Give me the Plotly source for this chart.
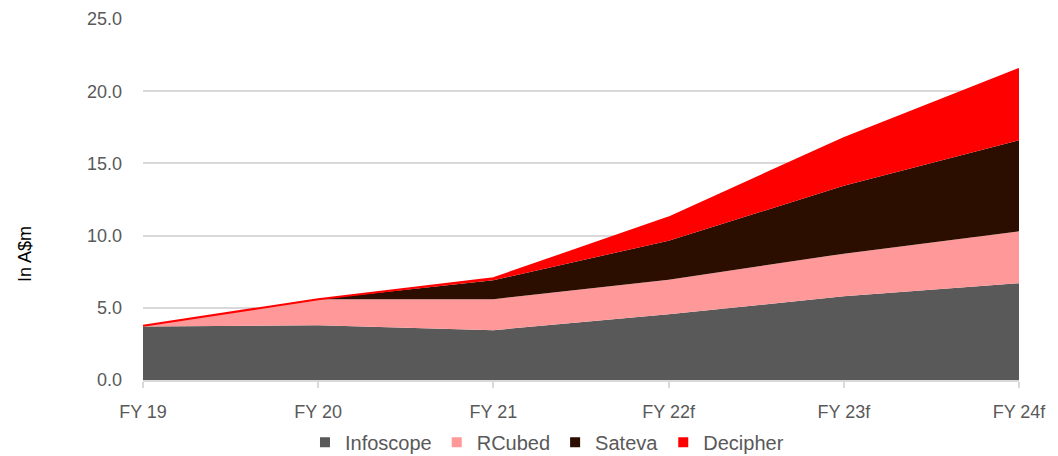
import plotly.graph_objects as go

categories = ["FY 19", "FY 20", "FY 21", "FY 22f", "FY 23f", "FY 24f"]
infoscope = [3.7, 3.8, 3.45, 4.55, 5.8, 6.7]
rcubed = [0.05, 1.8, 2.15, 2.4, 2.95, 3.6]
sateva = [0.0, 0.0, 1.3, 2.7, 4.7, 6.3]
decipher = [0.0, 0.0, 0.15, 1.6, 3.3, 4.95]
y_ticks = [0, 5, 10, 15, 20, 25]
y_tick_labels = ["0.0", "5.0", "10.0", "15.0", "20.0", "25.0"]

series = [
    ("Infoscope", infoscope, "#595959"),
    ("RCubed", rcubed, "#FF9999"),
    ("Sateva", sateva, "#2B0E00"),
    ("Decipher", decipher, "#FF0000"),
]

FONT = "Liberation Sans Narrow, Arial Narrow, Liberation Sans, Arial, sans-serif"

fig = go.Figure()
for name, vals, color in series:
    is_top = name == "Decipher"
    fig.add_trace(go.Scatter(
        x=categories, y=vals, name=name, stackgroup="one", mode="lines",
        line=dict(color=color, width=2 if is_top else 0),
        fillcolor=color, showlegend=False, hoverinfo="x+y+name",
    ))
for name, vals, color in series:
    fig.add_trace(go.Scatter(
        x=[None], y=[None], name=name, mode="markers",
        marker=dict(symbol="square", size=10, color=color),
        showlegend=True,
    ))

fig.update_layout(
    width=1058, height=456,
    margin=dict(l=143, r=39, t=19, b=76, autoexpand=False),
    paper_bgcolor="white", plot_bgcolor="white",
    font=dict(family=FONT, size=18, color="#595959"),
    showlegend=True,
    legend=dict(orientation="h", xref="container", yref="container",
                x=0.517, xanchor="center", y=0.03, yanchor="middle",
                traceorder="normal",
                font=dict(family=FONT, size=20, color="#595959"),
                itemwidth=30, tracegroupgap=0,
                bgcolor="rgba(0,0,0,0)"),
    xaxis=dict(type="category", range=[0, 5], showgrid=False,
               showline=True, linecolor="#d9d9d9", linewidth=2,
               ticks="outside", ticklen=6, tickcolor="#d9d9d9", tickwidth=2,
               ticklabelstandoff=8,
               tickfont=dict(family=FONT, size=18, color="#595959"),
               zeroline=False),
    yaxis=dict(range=[0, 25], tickvals=y_ticks, ticktext=y_tick_labels,
               showgrid=True, gridcolor="#d9d9d9", gridwidth=2,
               zeroline=False, showline=False, ticks="", ticklen=0,
               ticklabelstandoff=20,
               tickfont=dict(family=FONT, size=18, color="#595959")),
    annotations=[dict(text="In A$m", textangle=-90, xref="paper", yref="paper",
                      x=(25 - 143) / 876, y=(380 - 254) / 361,
                      xanchor="center", yanchor="middle", showarrow=False,
                      font=dict(family=FONT, size=18, color="#000000"))],
)

fig.write_html("out.html")
